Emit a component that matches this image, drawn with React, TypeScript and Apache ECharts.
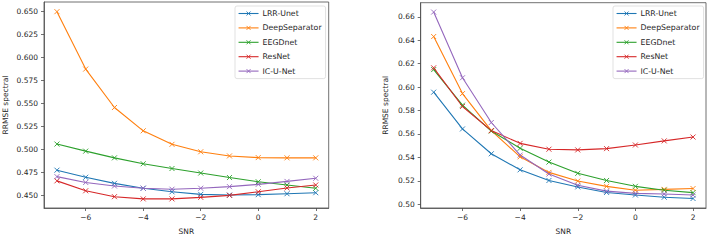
import React, { useEffect, useRef } from "react";
import * as echarts from "echarts";

// SNR levels shared by both panels
const snr = [-7, -6, -5, -4, -3, -2, -1, 0, 1, 2];
const seriesNames = ["LRR-Unet", "DeepSeparator", "EEGDnet", "ResNet", "IC-U-Net"];
const colors = ["#1f77b4", "#ff7f0e", "#2ca02c", "#d62728", "#9467bd"];

// Left panel: RRMSE spectral
const leftLRRUnet = [0.4777, 0.470, 0.4634, 0.4581, 0.4542, 0.4514, 0.4507, 0.4511, 0.4521, 0.4532];
const leftDeepSeparator = [0.650, 0.5876, 0.5458, 0.5205, 0.5058, 0.4977, 0.4932, 0.4914, 0.4911, 0.4911];
const leftEEGDnet = [0.5061, 0.4984, 0.4911, 0.4847, 0.4795, 0.4746, 0.4697, 0.4651, 0.4616, 0.4581];
const leftResNet = [0.4661, 0.4553, 0.4489, 0.4465, 0.4465, 0.4482, 0.4503, 0.4542, 0.4584, 0.4616];
const leftICUNet = [0.4707, 0.4644, 0.4605, 0.4581, 0.4570, 0.4581, 0.4598, 0.4623, 0.4655, 0.4689];

// Right panel: RRMSE spectral
const rightLRRUnet = [0.5957, 0.5643, 0.5431, 0.5294, 0.5203, 0.5148, 0.5101, 0.5079, 0.5060, 0.5049];
const rightDeepSeparator = [0.6432, 0.5945, 0.5629, 0.5405, 0.5272, 0.5198, 0.5153, 0.5120, 0.5127, 0.5134];
const rightEEGDnet = [0.6150, 0.5846, 0.5625, 0.5478, 0.5360, 0.5264, 0.5203, 0.5153, 0.5120, 0.5099];
const rightResNet = [0.6165, 0.5835, 0.5629, 0.5520, 0.5470, 0.5464, 0.5475, 0.5506, 0.5541, 0.5574];
const rightICUNet = [0.6641, 0.6080, 0.5698, 0.5420, 0.5258, 0.5162, 0.5112, 0.5093, 0.5088, 0.5079];

// Tick labels
const xTicks = [-6, -4, -2, 0, 2];
const leftYTicks = [0.45, 0.475, 0.5, 0.525, 0.55, 0.575, 0.6, 0.625, 0.65];
const rightYTicks = [0.5, 0.52, 0.54, 0.56, 0.58, 0.6, 0.62, 0.64, 0.66];

const leftData = [leftLRRUnet, leftDeepSeparator, leftEEGDnet, leftResNet, leftICUNet];
const rightData = [rightLRRUnet, rightDeepSeparator, rightEEGDnet, rightResNet, rightICUNet];

const FONT = "DejaVu Sans";
const TEXT = "#262626";
const AXIS = "#4d4d4d";
const X_MARK = "path://M0,0L10,10M10,0L0,10";

const fmtNum = (v: number, digits: number) => {
  const s = Math.abs(v).toFixed(digits);
  return v < 0 ? "\u2212" + s : s;
};

function makeXAxis(gridIndex: number) {
  return {
    type: "value",
    gridIndex,
    min: -7.45,
    max: 2.45,
    name: "SNR",
    nameLocation: "middle",
    nameGap: 19,
    nameTextStyle: { fontFamily: FONT, fontSize: 7.5, color: TEXT },
    splitLine: { show: false },
    axisLine: { show: true, onZero: false, lineStyle: { color: AXIS, width: 0.8 } },
    axisTick: {
      show: true,
      length: 3,
      customValues: xTicks,
      lineStyle: { color: AXIS, width: 0.8 },
    },
    axisLabel: {
      customValues: xTicks,
      margin: 5,
      fontFamily: FONT,
      fontSize: 7.5,
      color: TEXT,
      formatter: (v: number) => fmtNum(v, 0),
    },
  };
}

function makeYAxis(gridIndex: number, min: number, max: number, ticks: number[], digits: number, gap: number) {
  return {
    type: "value",
    gridIndex,
    min,
    max,
    name: "RRMSE spectral",
    nameLocation: "middle",
    nameRotate: 90,
    nameGap: gap,
    nameTextStyle: { fontFamily: FONT, fontSize: 7.5, color: TEXT },
    splitLine: { show: false },
    axisLine: { show: true, onZero: false, lineStyle: { color: AXIS, width: 0.8 } },
    axisTick: {
      show: true,
      length: 3,
      customValues: ticks,
      lineStyle: { color: AXIS, width: 0.8 },
    },
    axisLabel: {
      customValues: ticks,
      margin: 6,
      fontFamily: FONT,
      fontSize: 7.5,
      color: TEXT,
      formatter: (v: number) => v.toFixed(digits),
    },
  };
}

function makeSeries(data: number[][], axisIndex: number) {
  return data.map((vals, i) => ({
    name: seriesNames[i],
    type: "line",
    xAxisIndex: axisIndex,
    yAxisIndex: axisIndex,
    data: vals.map((v, j) => [snr[j], v]),
    symbol: X_MARK,
    symbolSize: 5,
    showSymbol: true,
    lineStyle: { color: colors[i], width: 1.1 },
    itemStyle: { color: colors[i], borderColor: colors[i], borderWidth: 0.9 },
    emphasis: { disabled: true },
  }));
}

function makeLegend(left: number, top: number) {
  return {
    left,
    top,
    orient: "vertical",
    data: seriesNames,
    itemWidth: 20,
    itemHeight: 5,
    itemGap: 6.4,
    padding: [3.5, 4, 3.5, 3],
    backgroundColor: "#ffffff",
    borderColor: "#d9d9d9",
    borderWidth: 0.8,
    borderRadius: 2,
    lineStyle: { width: 1.1 },
    itemStyle: { borderWidth: 0.9 },
    textStyle: { fontFamily: FONT, fontSize: 7.8, color: TEXT, padding: [0, 0, 0, -1] },
    selectedMode: false,
  };
}

export default function App() {
  const ref = useRef<HTMLDivElement>(null);

  useEffect(() => {
    document.body.style.margin = "0";
    if (!ref.current) return;
    const chart = echarts.init(ref.current, undefined, { renderer: "svg" });
    chart.setOption({
      animation: false,
      backgroundColor: "#ffffff",
      grid: [
        { left: 42, top: 2, width: 286.7, height: 213, show: true, borderColor: AXIS, borderWidth: 0.8, backgroundColor: "transparent" },
        { left: 420.7, top: 2.7, width: 285.3, height: 212.3, show: true, borderColor: AXIS, borderWidth: 0.8, backgroundColor: "transparent" },
      ],
      xAxis: [makeXAxis(0), makeXAxis(1)],
      yAxis: [
        makeYAxis(0, 0.4366, 0.6605, leftYTicks, 3, 35),
        makeYAxis(1, 0.4968, 0.6721, rightYTicks, 2, 31),
      ],
      legend: [makeLegend(235, 6), makeLegend(613, 6)],
      series: [...makeSeries(leftData, 0), ...makeSeries(rightData, 1)],
    });
    return () => chart.dispose();
  }, []);

  return (
    <div
      ref={ref}
      style={{ position: "absolute", left: 0, top: 0, width: 709, height: 240 }}
    />
  );
}
